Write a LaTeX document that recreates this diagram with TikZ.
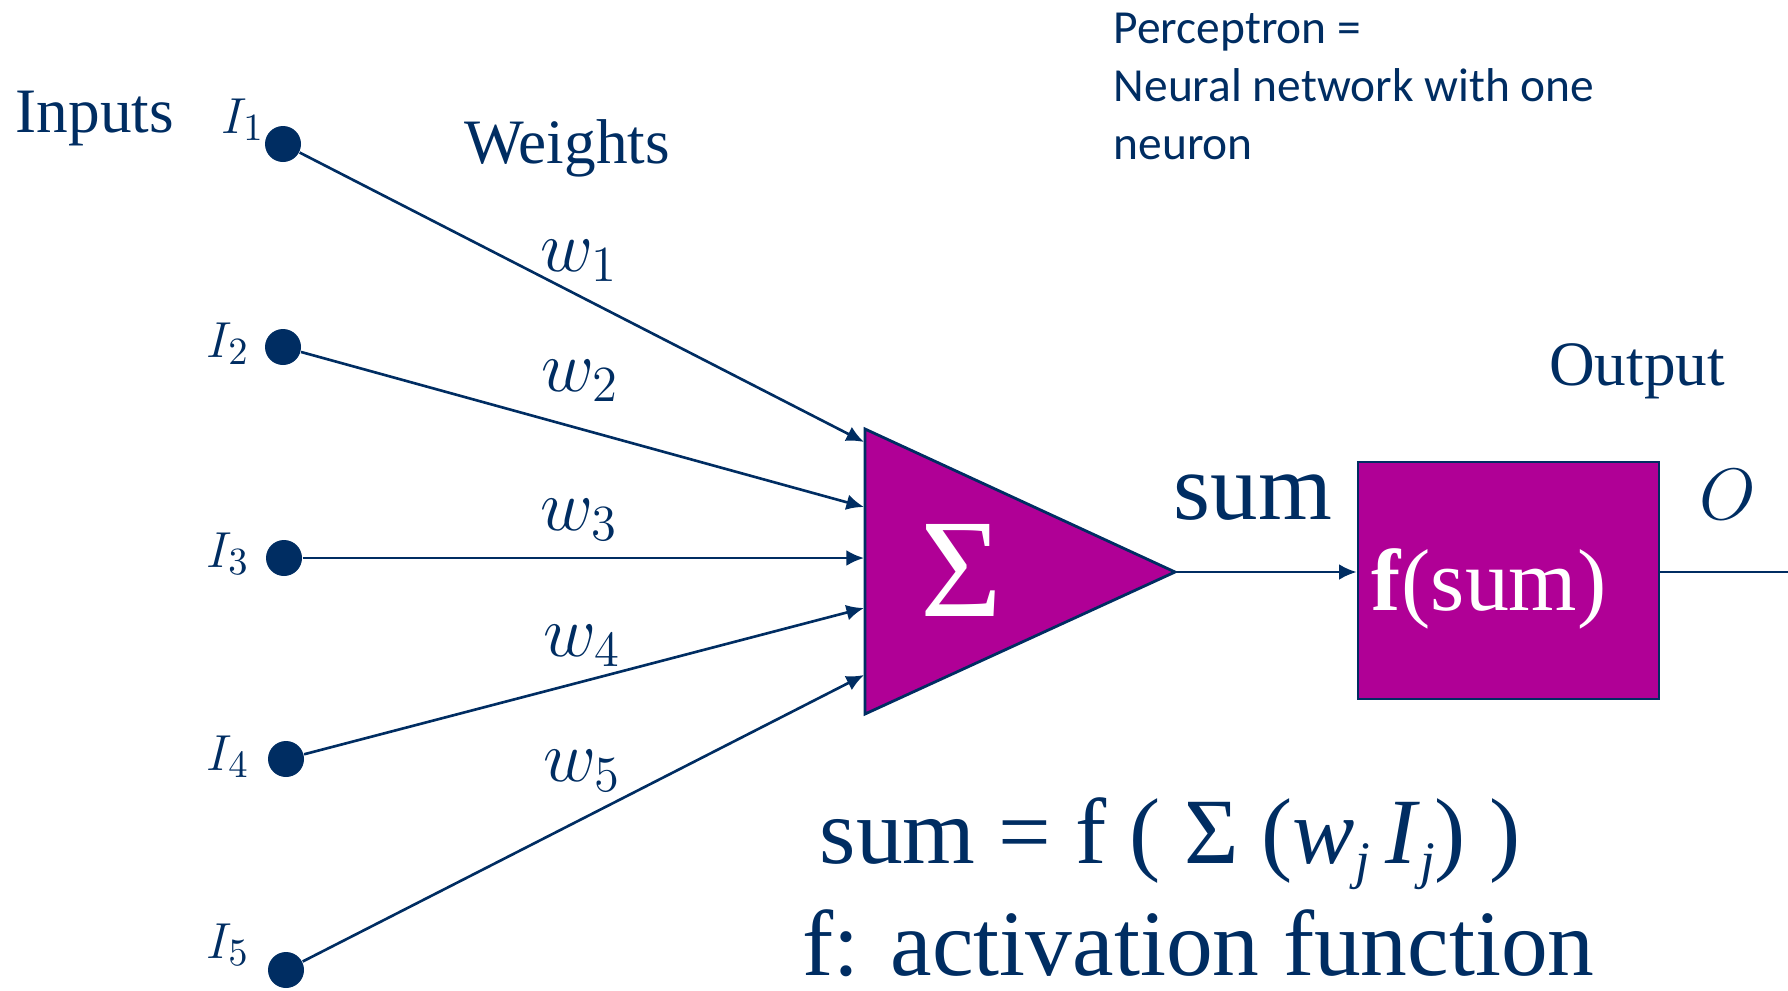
\documentclass[tikz,border=0pt]{standalone}
\usepackage{fontspec}
\setmainfont{Liberation Serif}
\newfontfamily\calib{Carlito}
\usetikzlibrary{arrows.meta}
\definecolor{navy}{RGB}{0,45,98}
\definecolor{neuronpink}{RGB}{176,0,150}
\newcommand{\lowj}{\raisebox{-0.35ex}{\fontsize{15}{15}\selectfont\textit{j}}}
\tikzset{
  wire/.style={navy, line width=0.75pt},
  inarrow/.style={wire, -{Latex[length=5pt,width=4.5pt]}},
  dot/.style={circle, fill=navy, inner sep=0pt, minimum size=0.36cm},
  lbl/.style={text=navy, inner sep=0pt, anchor=base},
  big/.style={lbl, font=\fontsize{18}{20}\selectfont},
  wlbl/.style={lbl, font=\fontsize{22}{24}\selectfont},
  ilbl/.style={lbl, font=\fontsize{15}{17}\selectfont}
}
\begin{document}
\begin{tikzpicture}
        % Perceptron: five weighted inputs, a summing unit and an activation box
        \useasboundingbox (0,0) rectangle (17.88,-9.90);
        \node[dot] (I1) at (2.83,-1.44) {};
        \node[dot] (I2) at (2.83,-3.47) {};
        \node[dot] (I3) at (2.84,-5.58) {};
        \node[dot] (I4) at (2.86,-7.59) {};
        \node[dot] (I5) at (2.86,-9.70) {};
        \node[ilbl] (l1) at (2.43,-1.33) {$I_1$};
        \node[ilbl] (l2) at (2.28,-3.57) {$I_2$};
        \node[ilbl] (l3) at (2.28,-5.67) {$I_3$};
        \node[ilbl] (l4) at (2.28,-7.70) {$I_4$};
        \node[ilbl] (l5) at (2.28,-9.58) {$I_5$};
        \coordinate (tl) at (8.65,-4.29);
        \coordinate (bl) at (8.65,-7.14);
        \coordinate (apex) at (11.75,-5.72);
        \filldraw[fill=neuronpink, draw=navy, line width=0.8pt] (tl)--(apex)--(bl)--cycle;
        \node[text=white, font=\fontsize{40}{40}\selectfont] (sig) at (9.61,-5.70) {Σ};
        \coordinate (t1) at (8.64,-4.42);
        \coordinate (t2) at (8.64,-5.07);
        \coordinate (t3) at (8.64,-5.58);
        \coordinate (t4) at (8.64,-6.08);
        \coordinate (t5) at (8.64,-6.75);
        \draw[inarrow] (I1) -- (t1);
        \draw[inarrow] (I2) -- (t2);
        \draw[inarrow] (I3) -- (t3);
        \draw[inarrow] (I4) -- (t4);
        \draw[inarrow] (I5) -- (t5);
        \node[wlbl] (w1) at (5.79,-2.71) {$w_1$};
        \node[wlbl] (w2) at (5.80,-3.91) {$w_2$};
        \node[wlbl] (w3) at (5.79,-5.30) {$w_3$};
        \node[wlbl] (w4) at (5.82,-6.56) {$w_4$};
        \node[wlbl] (w5) at (5.82,-7.81) {$w_5$};
        \node[big] (inputs) at (0.95,-1.32) {Inputs};
        \node[big] (weights) at (5.67,-1.63) {Weights};
        \node[draw=navy, line width=0.8pt, fill=neuronpink, minimum width=3.01cm,
              minimum height=2.37cm, inner sep=0pt] (fbox) at (15.085,-5.805) {};
        \node[lbl, text=white, font=\fontsize{25}{27}\selectfont] (fsum) at (14.89,-6.10) {\textbf{f}(sum)};
        \coordinate (out) at (17.88,-5.72);
        \draw[inarrow] (apex) -- (fbox.west |- apex);
        \draw[wire] (fbox.east |- apex) -- (out);
        \node[lbl, font=\fontsize{27}{29}\selectfont] (sumlbl) at (12.53,-5.19) {sum};
        \node[big] (output) at (16.37,-3.85) {Output};
        \node[lbl, font=\fontsize{20}{22}\selectfont] (o) at (17.28,-5.19) {$O$};
        \node[text=navy, inner sep=0pt, anchor=north west, align=left,
              font=\calib\fontsize{13.5}{16.6}\selectfont] (note) at (11.13,-0.12)
              {Perceptron =\\Neural network with one\\neuron};
        \node[lbl, anchor=base west, font=\fontsize{26.6}{29}\selectfont] (formula) at (8.19,-8.63)
              {sum = f ( Σ (\textit{w}\lowj\,\textit{I}\lowj) )};
        \node[lbl, anchor=base west, font=\fontsize{26.6}{29}\selectfont] (actf) at (8.02,-9.75)
              {f: activation function};
\end{tikzpicture}
\end{document}
